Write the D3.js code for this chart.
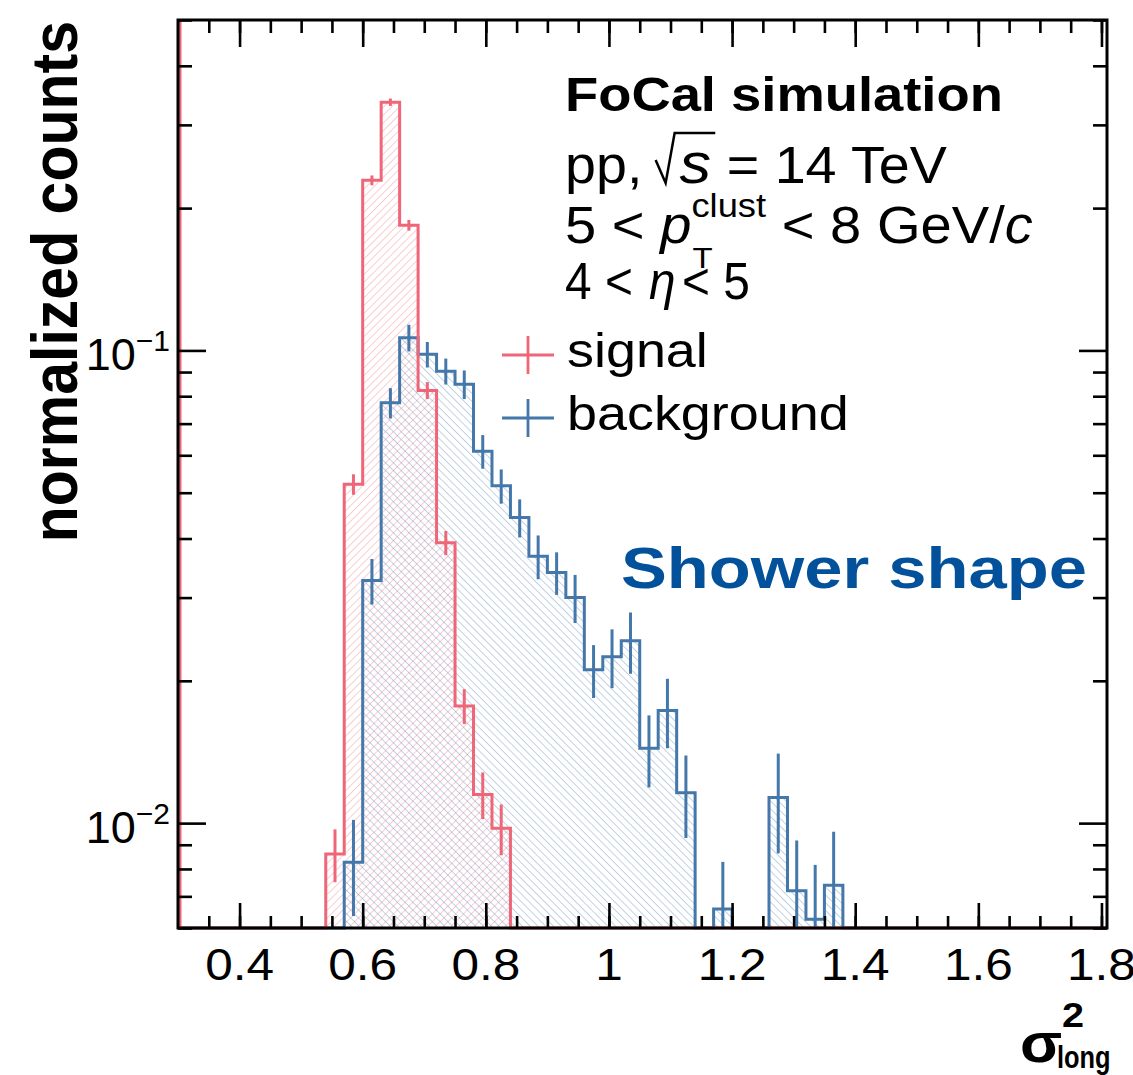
<!DOCTYPE html>
<html>
<head>
<meta charset="utf-8">
<script src="https://cdn.jsdelivr.net/npm/d3@7"></script>
<style>
body{margin:0;background:#fff;}
svg{display:block;}
</style>
</head>
<body>
<svg id="chart" width="1133" height="1075"></svg>
<script>
// binning of both histograms
var binWidth = 0.03;
var xDomain = [0.3, 1.809];
var yDomain = [0.006, 0.5];
var xTickLabels = ["0.4", "0.6", "0.8", "1", "1.2", "1.4", "1.6", "1.8"];
var yTickLabels = [{v: 0.1, exp: "\u22121"}, {v: 0.01, exp: "\u22122"}];

// signal (red), only the filled bins
var signalLow = [0.54, 0.57, 0.60, 0.63, 0.66, 0.69, 0.72, 0.75, 0.78, 0.81];
var signalVal = [0.0086, 0.0521, 0.229, 0.335, 0.184, 0.0823, 0.0392, 0.0177, 0.0115, 0.00975];
var signalErr = [0.0011, 0.0026, 0.0055, 0.006, 0.0048, 0.0034, 0.0023, 0.0015, 0.0013, 0.0012];

// background (blue)
var bkgLow = [0.57, 0.60, 0.63, 0.66, 0.69, 0.72, 0.75, 0.78, 0.81, 0.84, 0.87, 0.90, 0.93, 0.96, 0.99, 1.02, 1.05, 1.08, 1.11, 1.17, 1.26, 1.29, 1.32, 1.35];
var bkgVal = [0.00826, 0.0326, 0.0775, 0.1064, 0.0981, 0.0904, 0.0848, 0.0612, 0.0517, 0.0443, 0.0367, 0.0339, 0.0300, 0.0211, 0.0225, 0.0243, 0.0144, 0.0173, 0.0116, 0.00658, 0.01133, 0.00719, 0.00626, 0.00739];
var bkgErr = [0.0019, 0.0036, 0.0057, 0.0069, 0.0061, 0.0057, 0.0059, 0.0050, 0.0043, 0.0041, 0.0039, 0.0035, 0.0035, 0.0027, 0.0032, 0.0036, 0.0025, 0.0029, 0.0023, 0.0017, 0.0027, 0.0020, 0.0019, 0.0022];

var RED = "#ee6677", BLUE = "#4477aa", TITLE_BLUE = "#03519a";
var FONT = "'Liberation Sans', Arial, Helvetica, sans-serif";
var SX = 1.1; // text in the picture is a bit wider than the font

var frame = {left: 178, right: 1107, top: 20, bottom: 928};
var svg = d3.select("#chart");

var x = d3.scaleLinear().domain(xDomain).range([frame.left, frame.right]);
var y = d3.scaleLog().domain(yDomain).range([frame.bottom, frame.top]);

var defs = svg.append("defs");
defs.append("clipPath").attr("id", "plotclip")
	.append("rect")
	.attr("x", frame.left).attr("y", frame.top)
	.attr("width", frame.right - frame.left)
	.attr("height", frame.bottom - frame.top + 2);

function hatch(id, color, angle){
	defs.append("pattern")
		.attr("id", id)
		.attr("patternUnits", "userSpaceOnUse")
		.attr("width", 5.5).attr("height", 5.5)
		.attr("patternTransform", "rotate(" + angle + ")")
		.append("line")
		.attr("x1", 0).attr("y1", 0).attr("x2", 0).attr("y2", 5.5)
		.attr("stroke", color).attr("stroke-width", 1.2).attr("stroke-opacity", 0.55);
}
hatch("hatchRed", RED, 45);
hatch("hatchBlue", BLUE, -45);

function histPath(lows, vals){
	var p = d3.path();
	var yb = frame.bottom;
	p.moveTo(x(xDomain[0]), yb);
	var prevEnd = null;
	lows.forEach(function(lo, i){
		var joined = prevEnd !== null && Math.abs(prevEnd - lo) <= 1e-6;
		if(prevEnd !== null && !joined){
			p.lineTo(x(prevEnd), yb);
		}
		p.lineTo(x(lo), joined ? y(vals[i - 1]) : yb);
		p.lineTo(x(lo), y(vals[i]));
		p.lineTo(x(lo + binWidth), y(vals[i]));
		prevEnd = lo + binWidth;
	});
	p.lineTo(x(prevEnd), yb);
	p.lineTo(x(xDomain[1]), yb);
	return p.toString();
}

var plot = svg.append("g").attr("clip-path", "url(#plotclip)");

// fills
plot.append("path").attr("d", histPath(bkgLow, bkgVal) + "Z").attr("fill", "url(#hatchBlue)");
plot.append("path").attr("d", histPath(signalLow, signalVal) + "Z").attr("fill", "url(#hatchRed)");

// frame and ticks
var axes = svg.append("g");
var minorX = d3.range(7, 37).map(function(k){ return k * 0.05; });
var majorX = xTickLabels.map(Number);
var yTicks = y.ticks();
var majorY = yTicks.filter(function(v){ return Math.abs(Math.log10(v) - Math.round(Math.log10(v))) < 1e-6; });
var minorY = yTicks.filter(function(v){ return majorY.indexOf(v) < 0; });

function tickAxis(axisFn, scale, vals, size, tr){
	var g = axes.append("g")
		.attr("transform", tr)
		.call(axisFn(scale).tickValues(vals).tickSize(size).tickFormat(""));
	g.select(".domain").remove();
	g.selectAll("line").attr("stroke", "#000").attr("stroke-width", 2.6);
}
tickAxis(d3.axisBottom, x, minorX, -12, "translate(0," + frame.bottom + ")");
tickAxis(d3.axisBottom, x, majorX, -25, "translate(0," + frame.bottom + ")");
tickAxis(d3.axisTop, x, minorX, -13, "translate(0," + frame.top + ")");
tickAxis(d3.axisTop, x, majorX, -27, "translate(0," + frame.top + ")");
tickAxis(d3.axisLeft, y, minorY, -14, "translate(" + frame.left + ",0)");
tickAxis(d3.axisLeft, y, majorY, -28, "translate(" + frame.left + ",0)");
tickAxis(d3.axisRight, y, minorY, -14, "translate(" + frame.right + ",0)");
tickAxis(d3.axisRight, y, majorY, -28, "translate(" + frame.right + ",0)");

axes.append("rect")
	.attr("x", frame.left).attr("y", frame.top)
	.attr("width", frame.right - frame.left).attr("height", frame.bottom - frame.top)
	.attr("fill", "none").attr("stroke", "#000").attr("stroke-width", 3);

// histogram lines and error bars
function drawHist(lows, vals, errs, color){
	plot.append("path")
		.attr("d", histPath(lows, vals))
		.attr("fill", "none").attr("stroke", color)
		.attr("stroke-width", 3).attr("stroke-linejoin", "miter");
	plot.selectAll(null)
		.data(lows)
		.enter().append("line")
		.attr("x1", function(d){ return x(d + binWidth / 2); })
		.attr("x2", function(d){ return x(d + binWidth / 2); })
		.attr("y1", function(d, i){ return y(vals[i] + errs[i]); })
		.attr("y2", function(d, i){ var lo = vals[i] - errs[i]; return lo > yDomain[0] ? y(lo) : frame.bottom; })
		.attr("stroke", color).attr("stroke-width", 3);
}
drawHist(bkgLow, bkgVal, bkgErr, BLUE);
drawHist(signalLow, signalVal, signalErr, RED);
// zero bins at the low edge leave a line up the left side
plot.append("line")
	.attr("x1", frame.left + 2).attr("x2", frame.left + 2)
	.attr("y1", frame.top).attr("y2", frame.bottom)
	.attr("stroke", RED).attr("stroke-width", 3);

// text helper
function txt(px, py, str, o){
	o = o || {};
	var t = svg.append("text")
		.attr("font-family", FONT)
		.attr("font-size", o.size || 49)
		.attr("font-weight", o.weight || "normal")
		.attr("font-style", o.italic ? "italic" : "normal")
		.attr("text-anchor", o.anchor || "start")
		.attr("fill", o.fill || "#000")
		.text(str);
	if(o.parts){
		o.parts.forEach(function(p){
			var s = t.append("tspan").text(p.t);
			if(p.italic) s.attr("font-style", "italic");
			if(p.size) s.attr("font-size", p.size);
			if(p.dy) s.attr("dy", p.dy);
			if(p.dx) s.attr("dx", p.dx);
		});
	}
	var sx = o.sx || SX;
	if(o.fitW){ sx = o.fitW / t.node().getBBox().width; }
	t.attr("transform", "translate(" + px + "," + py + ") scale(" + sx + ",1)" + (o.rotate ? " rotate(" + o.rotate + ")" : ""));
	t.sx = sx;
	return t;
}

// x tick labels
xTickLabels.forEach(function(l){
	txt(x(+l), 980, l, {size: 45, anchor: "middle"});
});
// y tick labels 10^n
yTickLabels.forEach(function(d){
	var sup = txt(170, y(d.v) + 1, d.exp, {size: 30, anchor: "end", sx: 1.0});
	var w = sup.node().getBBox().width;
	txt(170 - w, y(d.v) + 20, "10", {size: 45, anchor: "end", sx: 1.0});
});

// axis titles
txt(77, 21, "normalized counts", {size: 59, weight: "bold", anchor: "end", rotate: -90});
txt(1020, 1062, "\u03c3", {size: 56, weight: "bold"});
txt(1062, 1027, "2", {size: 36, weight: "bold"});
txt(1057, 1068, "long", {size: 31, weight: "bold", sx: 0.82});

// labels block
var L = 565;
txt(L, 111, "FoCal simulation", {size: 48, weight: "bold", fitW: 438});

var line2 = txt(L, 183, "pp, ", {size: 51, fitW: 382,
	parts: [{t: "s", italic: true, size: 58, dx: 20}, {t: " = 14 TeV", size: 51}]});
var n2 = line2.node();
var sStart = L + line2.sx * n2.getStartPositionOfChar(4).x;
var sEnd = L + line2.sx * n2.getEndPositionOfChar(4).x;
svg.append("path")
	.attr("d", "M" + (sStart - 24) + ",160L" + (sStart - 14) + ",183L" + (sStart - 5) + ",133L" + (sEnd + 4) + ",133")
	.attr("fill", "none").attr("stroke", "#000").attr("stroke-width", 2.5);

var line3 = txt(L, 243, "5 < ", {size: 51, fitW: 468,
	parts: [{t: "p", italic: true}, {t: "clust", size: 33, dy: -26}, {t: " < 8 GeV/", size: 51, dy: 26}, {t: "c", italic: true}]});
var pEnd = L + line3.sx * line3.node().getEndPositionOfChar(4).x;
txt(pEnd + 1, 268, "T", {size: 30});

txt(L, 299, "4 < ", {size: 51, fitW: 185,
	parts: [{t: "\u03b7", italic: true, dx: 3}, {t: "< 5", dx: 7}]});

// legend
var legend = [{label: "signal", color: RED, y: 355}, {label: "background", color: BLUE, y: 418}];
legend.forEach(function(d){
	svg.append("line").attr("x1", 502).attr("x2", 554).attr("y1", d.y).attr("y2", d.y)
		.attr("stroke", d.color).attr("stroke-width", 2.8);
	svg.append("line").attr("x1", 528).attr("x2", 528).attr("y1", d.y - 19).attr("y2", d.y + 19)
		.attr("stroke", d.color).attr("stroke-width", 2.8);
	txt(567, d.y + 12, d.label, {size: 49});
});

txt(621, 588, "Shower shape", {size: 58, weight: "bold", fill: TITLE_BLUE, fitW: 466});

// cut-off stamp at the page bottom
txt(18, 1094, "ALI-SIMUL-553517", {size: 26, weight: "bold", fill: "#9a9a9a", fitW: 224});
</script>
</body>
</html>
